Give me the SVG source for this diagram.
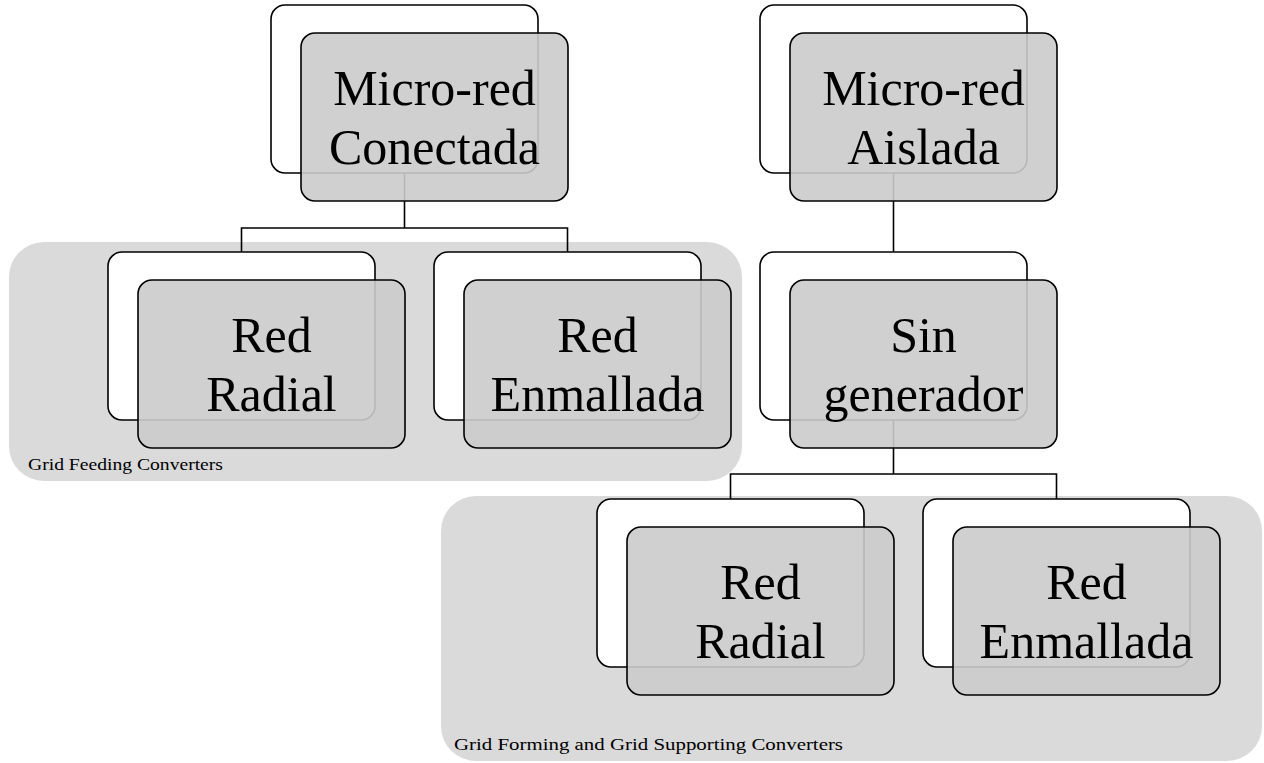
<svg xmlns="http://www.w3.org/2000/svg" width="1264" height="763" viewBox="0 0 1264 763">
<style>
.panel{fill:#dadada;stroke:none}
.back{fill:#ffffff;stroke:#000;stroke-width:1.6}
.front{fill:rgb(203,203,203);fill-opacity:0.9;stroke:#000;stroke-width:1.6}
.conn{fill:none;stroke:#000;stroke-width:1.6}
.big{font-family:"Liberation Serif","Times New Roman",serif;font-size:50px;fill:#000;text-anchor:middle}
.small{font-family:"Liberation Serif","Times New Roman",serif;font-size:17px;fill:#000}
</style>
<rect width="1264" height="763" fill="#fff"/>
<g id="panel-feeding">
<rect class="panel" x="9" y="242" width="733" height="239" rx="35"/>
<text class="small" x="28" y="470" textLength="195" lengthAdjust="spacingAndGlyphs">Grid Feeding Converters</text>
</g>
<g id="panel-forming">
<rect class="panel" x="441" y="496" width="821" height="265" rx="35"/>
<text class="small" x="454" y="750" textLength="389" lengthAdjust="spacingAndGlyphs">Grid Forming and Grid Supporting Converters</text>
</g>
<g id="connectors">
<path class="conn" d="M404.5 173V228M241.5 252V228H567.5V252"/>
<path class="conn" d="M893.5 173V252"/>
<path class="conn" d="M893.5 420V474M730.5 499V474H1056.5V499"/>
</g>
<g id="node-conectada">
<rect class="back" x="271" y="5" width="267" height="168" rx="14"/>
<rect class="front" x="301" y="33" width="267" height="168" rx="14"/>
<text class="big" x="434.5" y="105">Micro-red</text>
<text class="big" x="434.5" y="164">Conectada</text>
</g>
<g id="node-radial-1">
<rect class="back" x="108" y="252" width="267" height="168" rx="14"/>
<rect class="front" x="138" y="280" width="267" height="168" rx="14"/>
<text class="big" x="271.5" y="352">Red</text>
<text class="big" x="271.5" y="411">Radial</text>
</g>
<g id="node-enmallada-1">
<rect class="back" x="434" y="252" width="267" height="168" rx="14"/>
<rect class="front" x="464" y="280" width="267" height="168" rx="14"/>
<text class="big" x="597.5" y="352">Red</text>
<text class="big" x="597.5" y="411">Enmallada</text>
</g>
<g id="node-aislada">
<rect class="back" x="760" y="5" width="267" height="168" rx="14"/>
<rect class="front" x="790" y="33" width="267" height="168" rx="14"/>
<text class="big" x="923.5" y="105">Micro-red</text>
<text class="big" x="923.5" y="164">Aislada</text>
</g>
<g id="node-sin-generador">
<rect class="back" x="760" y="252" width="267" height="168" rx="14"/>
<rect class="front" x="790" y="280" width="267" height="168" rx="14"/>
<text class="big" x="923.5" y="352">Sin</text>
<text class="big" x="923.5" y="411">generador</text>
</g>
<g id="node-radial-2">
<rect class="back" x="597" y="499" width="267" height="168" rx="14"/>
<rect class="front" x="627" y="527" width="267" height="168" rx="14"/>
<text class="big" x="760.5" y="599">Red</text>
<text class="big" x="760.5" y="658">Radial</text>
</g>
<g id="node-enmallada-2">
<rect class="back" x="923" y="499" width="267" height="168" rx="14"/>
<rect class="front" x="953" y="527" width="267" height="168" rx="14"/>
<text class="big" x="1086.5" y="599">Red</text>
<text class="big" x="1086.5" y="658">Enmallada</text>
</g>
</svg>
